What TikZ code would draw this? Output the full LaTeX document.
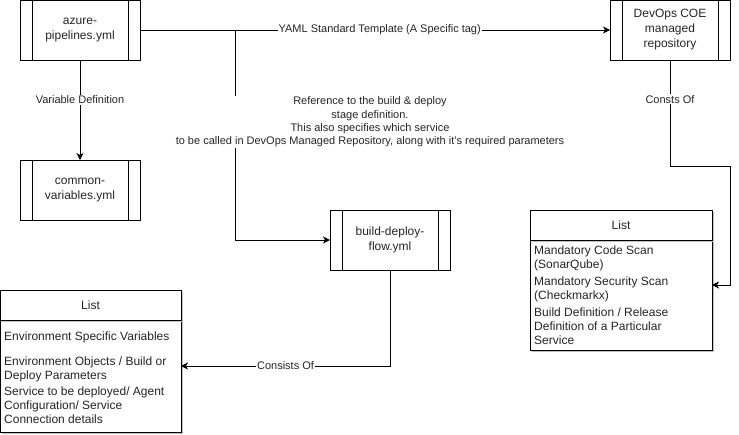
\documentclass[tikz,border=0pt]{standalone}
\usepackage{fontspec}
\setmainfont{Liberation Sans}
\usetikzlibrary{arrows.meta, shadows}

\tikzset{
	procbox/.style = {draw, fill=white, line width=1pt, minimum width=120pt, minimum height=60pt,
		inner sep=0pt, outer sep=0pt, align=center, text=black!85,
		font=\fontsize{12}{15}\selectfont,
		path picture={
			\draw ([xshift=12pt]path picture bounding box.north west) -- ([xshift=12pt]path picture bounding box.south west);
			\draw ([xshift=-12pt]path picture bounding box.north east) -- ([xshift=-12pt]path picture bounding box.south east);
		}},
	listpart/.style = {draw, fill=white, line width=1pt, inner sep=0pt, outer sep=0pt,
		drop shadow={shadow xshift=2pt, shadow yshift=-2pt, fill=black!25, opacity=1},
		text=black!85, font=\fontsize{12}{14}\selectfont},
	listitem/.style = {anchor=north west, align=left, inner sep=0pt, text=black!85,
		font=\fontsize{12}{14}\selectfont},
	edgelabel/.style = {fill=white, inner sep=1pt, text=black!85, font=\fontsize{11}{13.4}\selectfont},
	flow/.style = {line width=1pt, -{Stealth[length=7pt, width=7pt, inset=2pt]}}
}

\begin{document}
\begin{tikzpicture}[x=1pt, y=-1pt]
	\useasboundingbox (0,0) rectangle (739,434);

	\node [procbox] (azure) at (80,30) {azure-\\pipelines.yml};
	\node [procbox] (common) at (80,190) {common-\\variables.yml};
	\node [procbox] (coe) at (670,30) {DevOps COE\\managed\\repository};
	\node [procbox] (build) at (390,240) {build-deploy-\\flow.yml};

	% lists
	\node [listpart, minimum width=182pt, minimum height=110pt] (coebody) at (621,295) {};
	\node [listpart, minimum width=182pt, minimum height=30pt] (coehead) at (621,225) {List};
	\node [listpart, minimum width=181pt, minimum height=112pt] (envbody) at (90.5,376) {};
	\node [listpart, minimum width=181pt, minimum height=30pt] (envhead) at (90.5,305) {List};

	\foreach \i/\y/\txt in {1/245.5/{Mandatory Code Scan\\(SonarQube)},
			2/276.5/{Mandatory Security Scan\\(Checkmarkx)},
			3/307.5/{Build Definition / Release\\Definition of a Particular\\Service}}
	{
		\node [listitem] (coeitem\i) at (534,\y) {\txt};
	}

	\foreach \i/\y/\txt in {1/331.5/{Environment Specific Variables},
			2/356.5/{Environment Objects / Build or\\Deploy Parameters},
			3/386.5/{Service to be deployed/ Agent\\Configuration/ Service\\Connection details}}
	{
		\node [listitem] (envitem\i) at (4,\y) {\txt};
	}

	% connectors
	\draw [flow] (azure) -- node [edgelabel, pos=0.4] {Variable Definition} (common);
	\draw [flow] (azure) -- node [edgelabel, pos=0.51] {YAML Standard Template (A Specific tag)} (coe);

	\coordinate (branch) at (235,30);
	\draw [flow] (branch) |- (build.west);
	\node [edgelabel, align=center] (reflabel) at (370,122)
		{Reference to the build \& deploy\\stage definition.\\This also specifies which service\\to be called in DevOps Managed Repository, along with it's required parameters};

	\coordinate (coebend) at (730,166);
	\draw [flow] (coe.south) -- node [edgelabel, pos=0.37] {Consts Of} (coe.south |- coebend)
		-- (coebend) |- ([yshift=10pt]coebody.east);

	\draw [flow] (build.south) |- node [edgelabel, pos=0.75] {Consists Of} ([yshift=10pt]envbody.east);
\end{tikzpicture}
\end{document}
